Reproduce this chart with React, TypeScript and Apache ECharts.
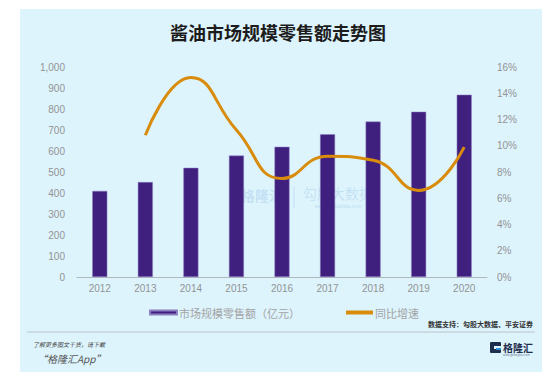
import React, { useEffect, useRef } from "react";
import * as echarts from "echarts";

const years = ["2012", "2013", "2014", "2015", "2016", "2017", "2018", "2019", "2020"];
const retailSales = [410, 452, 520, 578, 620, 680, 740, 787, 868];
const yoyGrowth: (number | null)[] = [null, 10.8, 15.2, 11.2, 7.5, 9.2, 8.9, 6.6, 9.9];
const leftTicks = { min: 0, max: 1000, interval: 100 };
const rightTicks = { min: 0, max: 16, interval: 2 };
const titleText = "酱油市场规模零售额走势图";
const seriesNames = ["市场规模零售额（亿元）", "同比增速"];
const sourceText = "数据支持：勾股大数据、平安证券";

export default function App() {
  const ref = useRef<HTMLDivElement>(null);
  useEffect(() => {
    if (!ref.current) return;
    const chart = echarts.init(ref.current, null, { renderer: "svg" });
    const axisLabel = { color: "#939393", fontSize: 10, fontFamily: "Arial, Liberation Sans, sans-serif" };
    const wm = "rgba(90,140,200,0.2)";
    chart.setOption({
      animation: false,
      backgroundColor: "#ffffff",
      graphic: [
        { type: "rect", z: -10, shape: { x: 20, y: 9, width: 522, height: 363 }, style: { fill: "#DDF4FD" } },
        {
          type: "text", x: 278, y: 32,
          style: { text: titleText, fill: "#1c1c1c", font: "bold 18px 'Noto Sans CJK SC', sans-serif", align: "center", verticalAlign: "middle" },
        },
        { type: "line", shape: { x1: 27, y1: 332, x2: 535, y2: 332 }, style: { stroke: "#b8c4c8", lineWidth: 1 } },
        {
          type: "text", x: 533, y: 324,
          style: { text: sourceText, fill: "#333", font: "bold 7px 'Noto Sans CJK SC', sans-serif", align: "right", verticalAlign: "middle" },
        },
        {
          type: "text", x: 33, y: 344,
          style: { text: "了解更多图文干货，请下载", fill: "#444", font: "italic 6px 'Noto Sans CJK SC', sans-serif", align: "left", verticalAlign: "middle" },
        },
        {
          type: "text", x: 37, y: 358,
          style: { text: "“格隆汇App”", fill: "#555", font: "italic 10px 'Noto Sans CJK SC', sans-serif", align: "left", verticalAlign: "middle" },
        },
        { type: "rect", shape: { x: 490, y: 342, width: 11, height: 11, r: 1 }, style: { fill: "#1f2d4d" } },
        { type: "rect", shape: { x: 494, y: 346, width: 7, height: 3 }, style: { fill: "#DDF4FD" } },
        { type: "rect", shape: { x: 496, y: 348, width: 5, height: 2 }, style: { fill: "#2a8fd8" } },
        {
          type: "text", x: 503, y: 347,
          style: { text: "格隆汇", fill: "#1f2d4d", font: "bold 10px 'Noto Sans CJK SC', sans-serif", align: "left", verticalAlign: "middle" },
        },
        {
          type: "text", x: 503, y: 355,
          style: { text: "www.gelonghui.com", fill: "#6a7a90", font: "3px sans-serif", align: "left", verticalAlign: "middle" },
        },
        {
          type: "text", x: 262, y: 195,
          style: { text: "格隆汇", fill: wm, font: "bold 14px 'Noto Sans CJK SC', sans-serif", align: "center", verticalAlign: "middle" },
        },
        { type: "line", shape: { x1: 294, y1: 186, x2: 294, y2: 208 }, style: { stroke: wm, lineWidth: 1 } },
        {
          type: "text", x: 338, y: 193,
          style: { text: "勾股大数据", fill: wm, font: "14px 'Noto Sans CJK SC', sans-serif", align: "center", verticalAlign: "middle" },
        },
        {
          type: "text", x: 338, y: 206,
          style: { text: "www.gogudata.com", fill: wm, font: "bold 5px sans-serif", align: "center", verticalAlign: "middle" },
        },
      ],
      grid: { left: 77, right: 69, top: 67, bottom: 103 },
      legend: {
        left: 144,
        top: 302,
        itemGap: 46,
        itemWidth: 27,
        itemHeight: 4,
        icon: "rect",
        textStyle: { color: "#a3a3a3", fontSize: 11, fontFamily: "'Noto Sans CJK SC', serif", padding: [0, 0, 0, -3] },
        data: [
          { name: seriesNames[0], itemStyle: { color: "#40207F" } },
          { name: seriesNames[1], itemStyle: { color: "#D98C0B" } },
        ],
      },
      xAxis: {
        type: "category",
        data: years,
        axisLine: { lineStyle: { color: "#b0b8bc" } },
        axisTick: { show: false },
        axisLabel: { ...axisLabel, margin: 6 },
      },
      yAxis: [
        {
          type: "value",
          ...leftTicks,
          splitLine: { show: false },
          axisLine: { show: false },
          axisTick: { show: false },
          axisLabel: {
            ...axisLabel,
            margin: 12,
            formatter: (v: number) => v.toLocaleString("en-US"),
          },
        },
        {
          type: "value",
          ...rightTicks,
          splitLine: { show: false },
          axisLine: { show: false },
          axisTick: { show: false },
          axisLabel: { ...axisLabel, margin: 10, formatter: "{value}%" },
        },
      ],
      series: [
        {
          name: seriesNames[0],
          type: "bar",
          data: retailSales,
          barWidth: 15,
          itemStyle: { color: "#40207F", borderColor: "#8c7fc0", borderWidth: 0.5 },
        },
        {
          name: seriesNames[1],
          type: "line",
          yAxisIndex: 1,
          data: yoyGrowth,
          smooth: 0.5,
          showSymbol: false,
          lineStyle: { color: "#D98C0B", width: 3 },
          itemStyle: { color: "#D98C0B" },
        },
      ],
    });
    return () => chart.dispose();
  }, []);
  return <div ref={ref} style={{ position: "fixed", left: 0, top: 0, width: 556, height: 380 }} />;
}
